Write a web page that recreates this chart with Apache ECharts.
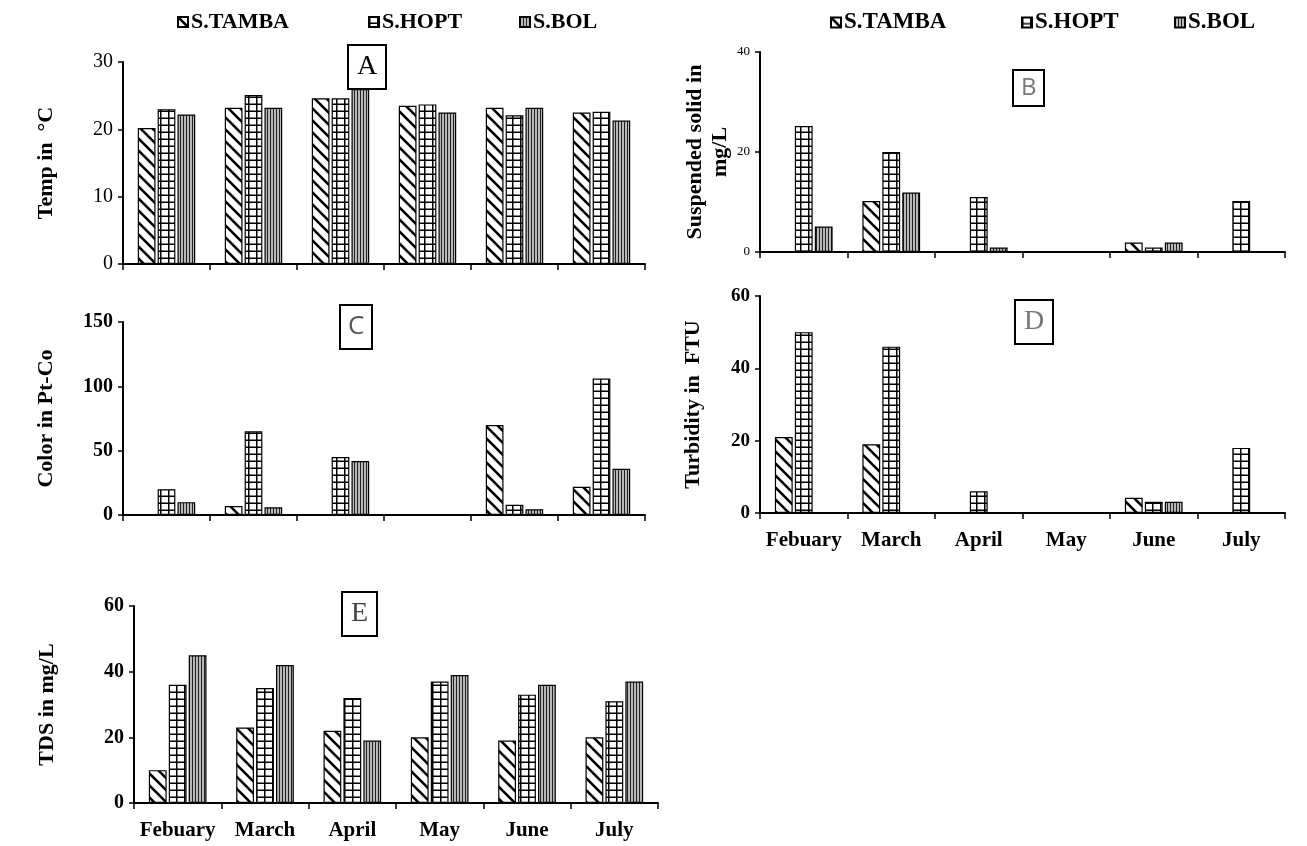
<!DOCTYPE html>
<html>
<head>
<meta charset="utf-8">
<script src="https://cdn.jsdelivr.net/npm/echarts@6/dist/echarts.min.js"></script>
<style>
html,body{margin:0;padding:0;background:#fff;}
#chart{width:1307px;height:846px;}
</style>
</head>
<body>
<div id="chart"></div>
<script>
// ---- data ----
var months = ['Febuary', 'March', 'April', 'May', 'June', 'July'];
var seriesNames = ['S.TAMBA', 'S.HOPT', 'S.BOL'];

var tempTamba = [20.2, 23.2, 24.6, 23.5, 23.2, 22.5];
var tempHopt  = [23.0, 25.1, 24.6, 23.7, 22.1, 22.6];
var tempBol   = [22.2, 23.2, 26.0, 22.5, 23.2, 21.3];

var ssTamba = [0, 10.2, 0, 0, 1.9, 0];
var ssHopt  = [25.2, 20.0, 11.0, 0, 0.9, 10.2];
var ssBol   = [5.1, 11.9, 0.9, 0, 1.9, 0];

var colorTamba = [0, 7, 0, 0, 70, 22];
var colorHopt  = [20, 65, 45, 0, 8, 106];
var colorBol   = [10, 6, 42, 0, 4.5, 36];

var turbTamba = [21, 19, 0, 0, 4.2, 0];
var turbHopt  = [50, 46, 6, 0, 3.1, 18];
var turbBol   = [0, 0, 0, 0, 3.1, 0];

var tdsTamba = [10, 23, 22, 20, 19, 20];
var tdsHopt  = [36, 35, 32, 37, 33, 31];
var tdsBol   = [45, 42, 19, 39, 36, 37];

// ---- patterns ----
function hatch() {
  var c = document.createElement('canvas'); c.width = 12; c.height = 12;
  var g = c.getContext('2d');
  g.fillStyle = '#fff'; g.fillRect(0, 0, 12, 12);
  g.strokeStyle = '#000'; g.lineWidth = 2.6;
  g.beginPath();
  g.moveTo(-3, -3); g.lineTo(15, 15);
  g.moveTo(-3, 9); g.lineTo(3, 15);
  g.moveTo(9, -3); g.lineTo(15, 3);
  g.stroke();
  return c;
}
function brick() {
  var c = document.createElement('canvas'); c.width = 8; c.height = 7;
  var g = c.getContext('2d');
  g.fillStyle = '#fff'; g.fillRect(0, 0, 8, 7);
  g.fillStyle = '#000';
  g.fillRect(0, 5.5, 8, 1.5);
  g.fillRect(0, 0, 1.5, 7);
  return c;
}
function vlines() {
  var c = document.createElement('canvas'); c.width = 3; c.height = 3;
  var g = c.getContext('2d');
  g.fillStyle = '#b8b8b8'; g.fillRect(0, 0, 3, 3);
  g.fillStyle = '#222'; g.fillRect(0, 0, 1, 3);
  return c;
}
var patterns = [
  { image: hatch(), repeat: 'repeat' },
  { image: brick(), repeat: 'repeat' },
  { image: vlines(), repeat: 'repeat' }
];

var serif = 'Liberation Serif';

var panels = [
  { grid: { left: 123, top: 62, width: 522, height: 202 }, max: 30, interval: 10,
    name: 'Temp in  \u00B0C', nameGap: 64, tickFont: 20, tickBold: 'normal', showX: false,
    data: [tempTamba, tempHopt, tempBol] },
  { grid: { left: 760, top: 52, width: 525, height: 200 }, max: 40, interval: 20,
    name: 'Suspended solid in\nmg/L', nameGap: 26, tickFont: 13, tickBold: 'normal', showX: false,
    data: [ssTamba, ssHopt, ssBol] },
  { grid: { left: 123, top: 322, width: 522, height: 193 }, max: 150, interval: 50,
    name: 'Color in Pt-Co', nameGap: 64, tickFont: 20, tickBold: 'bold', showX: false,
    data: [colorTamba, colorHopt, colorBol] },
  { grid: { left: 760, top: 296, width: 525, height: 217 }, max: 60, interval: 20,
    name: 'Turbidity in  FTU', nameGap: 54, tickFont: 19, tickBold: 'bold', showX: true,
    data: [turbTamba, turbHopt, turbBol] },
  { grid: { left: 134, top: 606, width: 524, height: 197 }, max: 60, interval: 20,
    name: 'TDS in mg/L', nameGap: 74, tickFont: 20, tickBold: 'bold', showX: true,
    data: [tdsTamba, tdsHopt, tdsBol] }
];

var grids = [], xAxes = [], yAxes = [], series = [];
panels.forEach(function (p, i) {
  grids.push(p.grid);
  xAxes.push({
    type: 'category', gridIndex: i, data: months, boundaryGap: true,
    axisLine: { show: true, lineStyle: { color: '#000', width: 2 } },
    axisTick: { show: true, length: 6, lineStyle: { color: '#000', width: 1.5 } },
    axisLabel: { show: p.showX, interval: 0, margin: 17, color: '#000',
      fontFamily: serif, fontWeight: 'bold', fontSize: 21 },
    splitLine: { show: false }
  });
  yAxes.push({
    type: 'value', gridIndex: i, min: 0, max: p.max, interval: p.interval,
    name: p.name, nameLocation: 'middle', nameGap: p.nameGap, nameRotate: 90,
    nameTextStyle: { color: '#000', fontFamily: serif, fontWeight: 'bold', fontSize: 22, lineHeight: 25 },
    axisLine: { show: true, lineStyle: { color: '#000', width: 2 } },
    axisTick: { show: true, length: 5, lineStyle: { color: '#000', width: 1.5 } },
    axisLabel: { color: '#000', fontFamily: serif, fontWeight: p.tickBold, fontSize: p.tickFont, margin: 10 },
    splitLine: { show: false }
  });
  p.data.forEach(function (vals, k) {
    series.push({
      type: 'bar', name: seriesNames[k], xAxisIndex: i, yAxisIndex: i, data: vals,
      barGap: '12%', barCategoryGap: '34%',
      itemStyle: { color: patterns[k], borderColor: '#000', borderWidth: 1.2 },
      emphasis: { disabled: true }
    });
  });
});

function boxTitle(txt, left, top, color, family, size, pad) {
  return {
    text: txt, left: left, top: top,
    borderColor: '#000', borderWidth: 2, backgroundColor: '#fff',
    padding: pad,
    textStyle: { color: color, fontFamily: family, fontWeight: 'normal', fontSize: size, lineHeight: size + 2 }
  };
}

// one legend per item so each sits where the reference puts it
var legendLefts = [[172, 363, 514], [825, 1016, 1169]];
var legendFont = [22, 23];
var legends = [];
legendLefts.forEach(function (row, r) {
  row.forEach(function (x, k) {
    legends.push({
      data: [seriesNames[k]], left: x, top: 6, itemWidth: 10, itemHeight: 10, itemGap: 0,
      icon: 'rect', selectedMode: false,
      textStyle: { color: '#000', fontFamily: serif, fontWeight: 'bold', fontSize: legendFont[r], padding: [0, 0, 0, -2] }
    });
  });
});

var option = {
  backgroundColor: '#fff',
  animation: false,
  title: [
    boxTitle('A', 348, 45, '#000', serif, 28, [7, 9, 7, 9]),
    boxTitle('B', 1013, 70, '#777', 'Open Sans', 24, [5, 8, 5, 8]),
    boxTitle('C', 340, 305, '#555', 'Open Sans', 26, [8, 8, 8, 8]),
    boxTitle('D', 1015, 300, '#777', serif, 28, [7, 9, 7, 9]),
    boxTitle('E', 342, 592, '#444', serif, 28, [7, 9, 7, 9])
  ],
  legend: legends,
  grid: grids,
  xAxis: xAxes,
  yAxis: yAxes,
  series: series
};

var chart = echarts.init(document.getElementById('chart'), null, { renderer: 'canvas' });
chart.setOption(option);
</script>
</body>
</html>
